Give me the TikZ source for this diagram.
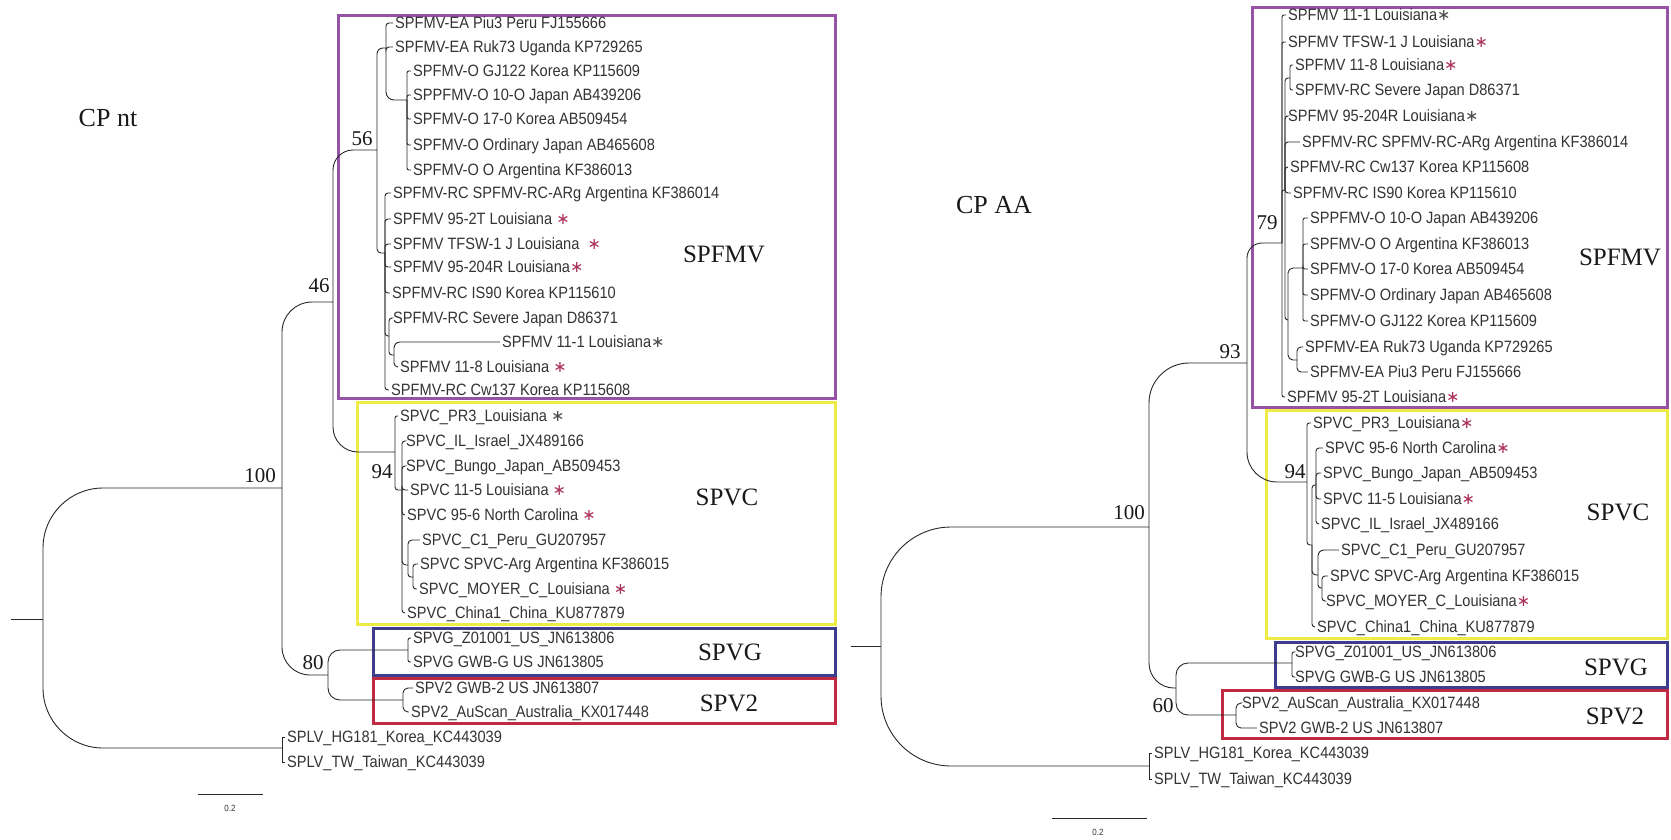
\documentclass[tikz,border=0pt]{standalone}
\usepackage{fontspec}
\setmainfont{Liberation Serif}
\newfontfamily\leaffont[FakeStretch=0.89]{Liberation Sans}
\newfontfamily\symfont{DejaVu Sans}
\definecolor{purpleC}{RGB}{150,82,165}
\definecolor{yellowC}{RGB}{238,234,70}
\definecolor{blueC}{RGB}{62,60,140}
\definecolor{redC}{RGB}{192,42,66}
\definecolor{starC}{RGB}{170,50,90}
\definecolor{lineC}{RGB}{40,40,40}
\newcommand{\rs}{{\color{starC}\symfont\fontsize{16}{16}\selectfont ∗}}
\newcommand{\gs}{{\color{black!70}\symfont\fontsize{16}{16}\selectfont ∗}}
\tikzset{
  leaf/.style={anchor=west, inner xsep=2pt, inner ysep=0pt, text=black!80,
    font=\leaffont\fontsize{16.4}{18}\selectfont, text height=11.7pt, text depth=0pt},
  br/.style={draw=lineC, line width=0.9pt},
  boot/.style={inner sep=0pt, text=black!90, font=\fontsize{21}{24}\selectfont},
  clade/.style={inner sep=0pt, text=black!90, font=\fontsize{25}{28}\selectfont},
  ttl/.style={inner sep=0pt, text=black!90, font=\fontsize{26}{28}\selectfont},
  box/.style={line width=3pt},
  scl/.style={inner sep=0pt, text=black!80, font=\leaffont\fontsize{9}{10}\selectfont},
}
\begin{document}
\begin{tikzpicture}[x=1pt,y=-1pt]
\useasboundingbox (0,0) rectangle (1671,839);
\fill[white] (0,0) rectangle (1671,839);

% ---------- boxes ----------
\draw[box,purpleC] (338,15) rectangle (835,398);
\draw[box,yellowC] (357,402) rectangle (835,624);
\draw[box,blueC] (373,628) rectangle (835,675);
\draw[box,redC] (373,678) rectangle (835,723);

\draw[box,purpleC] (1252,7) rectangle (1667,407);
\draw[box,yellowC] (1266,410) rectangle (1667,638);
\draw[box,blueC] (1275,642) rectangle (1667,687);
\draw[box,redC] (1222,690) rectangle (1667,738);

% ---------- titles ----------
\node[ttl] (tnt) at (108,118) {CP nt};
\node[ttl] (taa) at (994,205) {CP AA};

% ================= LEFT TREE =================
\coordinate (Lroot0) at (11,619);
\coordinate (Lroot) at (43,619);
\coordinate (L100) at (282,488);
\coordinate (Lsplv) at (282,748);
\coordinate (L46) at (333,302);
\coordinate (L80) at (328,675);
\coordinate (L56) at (377,150);
\coordinate (L94) at (395,452);
\coordinate (LA) at (386,48);
\coordinate (LO) at (407,100);
\coordinate (LB) at (385,253);
\coordinate (LC) at (389,336);
\coordinate (LD) at (394,355);
\coordinate (LE) at (402,490);
\coordinate (LF) at (408,565);
\coordinate (LG) at (413,577);
\coordinate (LH) at (408,650);
\coordinate (LI) at (403,700);

% leaves left
\node[leaf] (a1) at (393,23) {SPFMV-EA Piu3 Peru FJ155666};
\node[leaf] (a2) at (393,47) {SPFMV-EA Ruk73 Uganda KP729265};
\node[leaf] (a3) at (411,71) {SPFMV-O GJ122 Korea KP115609};
\node[leaf] (a4) at (411,95) {SPPFMV-O 10-O Japan AB439206};
\node[leaf] (a5) at (411,119) {SPFMV-O 17-0 Korea AB509454};
\node[leaf] (a6) at (411,145) {SPFMV-O Ordinary Japan AB465608};
\node[leaf] (a7) at (411,170) {SPFMV-O O Argentina KF386013};
\node[leaf] (a8) at (391,193) {SPFMV-RC SPFMV-RC-ARg Argentina KF386014};
\node[leaf] (a9) at (391,219) {SPFMV 95-2T Louisiana \rs};
\node[leaf] (a10) at (391,244) {SPFMV TFSW-1 J Louisiana \ \rs};
\node[leaf] (a11) at (391,267) {SPFMV 95-204R Louisiana\rs};
\node[leaf] (a12) at (390,293) {SPFMV-RC IS90 Korea KP115610};
\node[leaf] (a13) at (391,318) {SPFMV-RC Severe Japan D86371};
\node[leaf] (a14) at (500,342) {SPFMV 11-1 Louisiana\gs};
\node[leaf] (a15) at (398,367) {SPFMV 11-8 Louisiana \rs};
\node[leaf] (a16) at (389,390) {SPFMV-RC Cw137 Korea KP115608};
\node[leaf] (a17) at (398,416) {SPVC\_PR3\_Louisiana \gs};
\node[leaf] (a18) at (404,441) {SPVC\_IL\_Israel\_JX489166};
\node[leaf] (a19) at (404,466) {SPVC\_Bungo\_Japan\_AB509453};
\node[leaf] (a20) at (408,490) {SPVC 11-5 Louisiana \rs};
\node[leaf] (a21) at (405,515) {SPVC 95-6 North Carolina \rs};
\node[leaf] (a22) at (420,540) {SPVC\_C1\_Peru\_GU207957};
\node[leaf] (a23) at (418,564) {SPVC SPVC-Arg Argentina KF386015};
\node[leaf] (a24) at (417,589) {SPVC\_MOYER\_C\_Louisiana \rs};
\node[leaf] (a25) at (405,613) {SPVC\_China1\_China\_KU877879};
\node[leaf] (a26) at (411,638) {SPVG\_Z01001\_US\_JN613806};
\node[leaf] (a27) at (411,662) {SPVG GWB-G US JN613805};
\node[leaf] (a28) at (413,688) {SPV2 GWB-2 US JN613807};
\node[leaf] (a29) at (409,712) {SPV2\_AuScan\_Australia\_KX017448};
\node[leaf] (a30) at (285,737) {SPLV\_HG181\_Korea\_KC443039};
\node[leaf] (a31) at (285,762) {SPLV\_TW\_Taiwan\_KC443039};

% branches left
\draw[br] (Lroot0) -- (Lroot);
\draw[br,rounded corners=60pt] (Lroot) |- (L100);
\draw[br,rounded corners=60pt] (Lroot) |- (Lsplv);
\draw[br,rounded corners=30pt] (L100) |- (L46);
\draw[br,rounded corners=28pt] (L100) |- (L80);
\draw[br,rounded corners=20pt] (L46) |- (L56);
\draw[br,rounded corners=25pt] (L46) |- (L94);
\draw[br,rounded corners=6pt] (L56) |- (LA);
\draw[br,rounded corners=4pt] (L56) |- (LB);
\draw[br,rounded corners=3pt] (LA) |- (a1.west);
\draw[br,rounded corners=3pt] (LA) |- (a2.west);
\draw[br,rounded corners=8pt] (LA) |- (LO);
\foreach \n in {a3,a4,a5,a6,a7} \draw[br,rounded corners=2pt] (LO) |- (\n.west);
\foreach \n in {a8,a9,a10,a11,a12,a16} \draw[br,rounded corners=3pt] (LB) |- (\n.west);
\draw[br,rounded corners=3pt] (LB) |- (LC);
\draw[br,rounded corners=3pt] (LC) |- (a13.west);
\draw[br,rounded corners=3pt] (LC) |- (LD);
\draw[br,rounded corners=6pt] (LD) |- (a14.west);
\draw[br,rounded corners=4pt] (LD) |- (a15.west);
\draw[br,rounded corners=2pt] (L94) |- (a17.west);
\draw[br,rounded corners=3pt] (L94) |- (LE);
\foreach \n in {a18,a19,a20,a21,a25} \draw[br,rounded corners=3pt] (LE) |- (\n.west);
\draw[br,rounded corners=4pt] (LE) |- (LF);
\draw[br,rounded corners=4pt] (LF) |- (a22.west);
\draw[br,rounded corners=3pt] (LF) |- (LG);
\draw[br,rounded corners=3pt] (LG) |- (a23.west);
\draw[br,rounded corners=3pt] (LG) |- (a24.west);
\draw[br,rounded corners=12pt] (L80) |- (LH);
\draw[br,rounded corners=12pt] (L80) |- (LI);
\draw[br,rounded corners=2pt] (LH) |- (a26.west);
\draw[br,rounded corners=2pt] (LH) |- (a27.west);
\draw[br,rounded corners=5pt] (LI) |- (a28.west);
\draw[br,rounded corners=5pt] (LI) |- (a29.west);
\draw[br] (Lsplv) |- (a30.west);
\draw[br] (Lsplv) |- (a31.west);

% bootstrap left
\node[boot] (b100) at (260,476) {100};
\node[boot] (b46) at (319,286) {46};
\node[boot] (b56) at (362,139) {56};
\node[boot] (b94) at (382,472) {94};
\node[boot] (b80) at (313,663) {80};

% clade labels left
\node[clade] (cA1) at (724,254) {SPFMV};
\node[clade] (cA2) at (727,497) {SPVC};
\node[clade] (cA3) at (730,652) {SPVG};
\node[clade] (cA4) at (729,703) {SPV2};

% scale left
\coordinate (s1a) at (198,794);
\coordinate (s1b) at (263,794);
\draw[br] (s1a) -- (s1b);
\node[scl] (s1t) at (230,808) {0.2};

% ================= RIGHT TREE =================
\coordinate (Rroot0) at (851,646);
\coordinate (Rroot) at (881,646);
\coordinate (R100) at (1149,527);
\coordinate (Rsplv) at (1149,766);
\coordinate (R93) at (1247,363);
\coordinate (R60) at (1176,688);
\coordinate (R79) at (1282,243);
\coordinate (R94) at (1307,482);
\coordinate (RJ) at (1285,190);
\coordinate (RK) at (1290,78);
\coordinate (RL) at (1288,320);
\coordinate (RO) at (1303,268);
\coordinate (REA) at (1297,360);
\coordinate (RM) at (1312,545);
\coordinate (RN) at (1316,485);
\coordinate (RP) at (1318,575);
\coordinate (RQ) at (1322,588);
\coordinate (RG) at (1292,663);
\coordinate (R2) at (1236,715);

\node[leaf] (c1) at (1286,15) {SPFMV 11-1 Louisiana\gs};
\node[leaf] (c2) at (1286,42) {SPFMV TFSW-1 J Louisiana\rs};
\node[leaf] (c3) at (1293,65) {SPFMV 11-8 Louisiana\rs};
\node[leaf] (c4) at (1293,90) {SPFMV-RC Severe Japan D86371};
\node[leaf] (c5) at (1286,116) {SPFMV 95-204R Louisiana\gs};
\node[leaf] (c6) at (1300,142) {SPFMV-RC SPFMV-RC-ARg Argentina KF386014};
\node[leaf] (c7) at (1288,167) {SPFMV-RC Cw137 Korea KP115608};
\node[leaf] (c8) at (1291,193) {SPFMV-RC IS90 Korea KP115610};
\node[leaf] (c9) at (1308,218) {SPPFMV-O 10-O Japan AB439206};
\node[leaf] (c10) at (1308,244) {SPFMV-O O Argentina KF386013};
\node[leaf] (c11) at (1308,269) {SPFMV-O 17-0 Korea AB509454};
\node[leaf] (c12) at (1308,295) {SPFMV-O Ordinary Japan AB465608};
\node[leaf] (c13) at (1308,321) {SPFMV-O GJ122 Korea KP115609};
\node[leaf] (c14) at (1303,347) {SPFMV-EA Ruk73 Uganda KP729265};
\node[leaf] (c15) at (1308,372) {SPFMV-EA Piu3 Peru FJ155666};
\node[leaf] (c16) at (1285,397) {SPFMV 95-2T Louisiana\rs};
\node[leaf] (c17) at (1311,423) {SPVC\_PR3\_Louisiana\rs};
\node[leaf] (c18) at (1323,448) {SPVC 95-6 North Carolina\rs};
\node[leaf] (c19) at (1321,473) {SPVC\_Bungo\_Japan\_AB509453};
\node[leaf] (c20) at (1321,499) {SPVC 11-5 Louisiana\rs};
\node[leaf] (c21) at (1319,524) {SPVC\_IL\_Israel\_JX489166};
\node[leaf] (c22) at (1339,550) {SPVC\_C1\_Peru\_GU207957};
\node[leaf] (c23) at (1328,576) {SPVC SPVC-Arg Argentina KF386015};
\node[leaf] (c24) at (1324,601) {SPVC\_MOYER\_C\_Louisiana\rs};
\node[leaf] (c25) at (1315,627) {SPVC\_China1\_China\_KU877879};
\node[leaf] (c26) at (1293,652) {SPVG\_Z01001\_US\_JN613806};
\node[leaf] (c27) at (1293,677) {SPVG GWB-G US JN613805};
\node[leaf] (c28) at (1240,703) {SPV2\_AuScan\_Australia\_KX017448};
\node[leaf] (c29) at (1257,728) {SPV2 GWB-2 US JN613807};
\node[leaf] (c30) at (1152,753) {SPLV\_HG181\_Korea\_KC443039};
\node[leaf] (c31) at (1152,779) {SPLV\_TW\_Taiwan\_KC443039};

\draw[br] (Rroot0) -- (Rroot);
\draw[br,rounded corners=70pt] (Rroot) |- (R100);
\draw[br,rounded corners=70pt] (Rroot) |- (Rsplv);
\draw[br,rounded corners=40pt] (R100) |- (R93);
\draw[br,rounded corners=25pt] (R100) |- (R60);
\draw[br,rounded corners=15pt] (R93) |- (R79);
\draw[br,rounded corners=30pt] (R93) |- (R94);
\draw[br,rounded corners=12pt] (R60) |- (RG);
\draw[br,rounded corners=12pt] (R60) |- (R2);
\foreach \n in {c1,c2,c16} \draw[br,rounded corners=2pt] (R79) |- (\n.west);
\draw[br,rounded corners=2pt] (R79) |- (RJ);
\draw[br,rounded corners=3pt] (RJ) |- (RK);
\foreach \n in {c5,c6,c7,c8} \draw[br,rounded corners=3pt] (RJ) |- (\n.west);
\draw[br,rounded corners=3pt] (RJ) |- (RL);
\draw[br,rounded corners=2pt] (RK) |- (c3.west);
\draw[br,rounded corners=2pt] (RK) |- (c4.west);
\draw[br,rounded corners=5pt] (RL) |- (RO);
\draw[br,rounded corners=5pt] (RL) |- (REA);
\foreach \n in {c9,c10,c11,c12,c13} \draw[br,rounded corners=2pt] (RO) |- (\n.west);
\draw[br,rounded corners=4pt] (REA) |- (c14.west);
\draw[br,rounded corners=4pt] (REA) |- (c15.west);
\draw[br,rounded corners=2pt] (R94) |- (c17.west);
\draw[br,rounded corners=3pt] (R94) |- (RM);
\draw[br,rounded corners=3pt] (RM) |- (RN);
\draw[br,rounded corners=4pt] (RM) |- (RP);
\draw[br,rounded corners=3pt] (RM) |- (c25.west);
\foreach \n in {c18,c19,c20,c21} \draw[br,rounded corners=3pt] (RN) |- (\n.west);
\draw[br,rounded corners=6pt] (RP) |- (c22.west);
\draw[br,rounded corners=3pt] (RP) |- (RQ);
\draw[br,rounded corners=3pt] (RQ) |- (c23.west);
\draw[br,rounded corners=3pt] (RQ) |- (c24.west);
\draw[br,rounded corners=2pt] (RG) |- (c26.west);
\draw[br,rounded corners=2pt] (RG) |- (c27.west);
\draw[br,rounded corners=5pt] (R2) |- (c28.west);
\draw[br,rounded corners=5pt] (R2) |- (c29.west);
\draw[br] (Rsplv) |- (c30.west);
\draw[br] (Rsplv) |- (c31.west);

\node[boot] (d100) at (1129,513) {100};
\node[boot] (d93) at (1230,352) {93};
\node[boot] (d79) at (1267,223) {79};
\node[boot] (d94) at (1295,472) {94};
\node[boot] (d60) at (1163,706) {60};

\node[clade] (cB1) at (1620,257) {SPFMV};
\node[clade] (cB2) at (1618,512) {SPVC};
\node[clade] (cB3) at (1616,667) {SPVG};
\node[clade] (cB4) at (1615,716) {SPV2};

\coordinate (s2a) at (1052,818);
\coordinate (s2b) at (1147,818);
\draw[br] (s2a) -- (s2b);
\node[scl] (s2t) at (1098,832) {0.2};
\end{tikzpicture}
\end{document}
